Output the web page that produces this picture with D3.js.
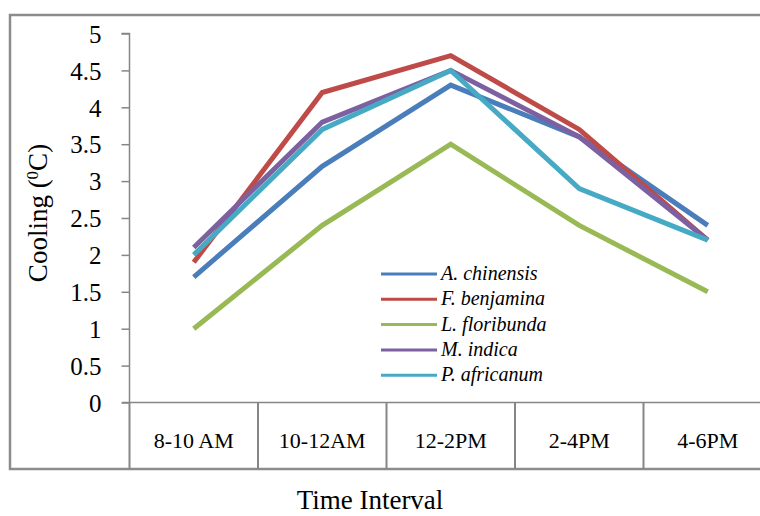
<!DOCTYPE html>
<html>
<head>
<meta charset="utf-8">
<script src="https://cdn.jsdelivr.net/npm/d3@7"></script>
<style>
  body { margin: 0; background: #fff; }
  text { font-family: "Liberation Serif", "Times New Roman", serif; fill: #000; }
</style>
</head>
<body>
<script>
// Data
var intervals = ["8-10 AM", "10-12AM", "12-2PM", "2-4PM", "4-6PM"];
var species = ["A. chinensis", "F. benjamina", "L. floribunda", "M. indica", "P. africanum"];
var chinensis  = [1.7, 3.2, 4.3, 3.6, 2.4];
var benjamina  = [1.9, 4.2, 4.7, 3.7, 2.2];
var floribunda = [1.0, 2.4, 3.5, 2.4, 1.5];
var indica     = [2.1, 3.8, 4.5, 3.6, 2.2];
var africanum  = [2.0, 3.7, 4.5, 2.9, 2.2];
var yTicks = [0, 0.5, 1, 1.5, 2, 2.5, 3, 3.5, 4, 4.5, 5];

var colors = ["#4a7ebb", "#be4b48", "#98b954", "#7d60a0", "#46aac5"];
var series = [chinensis, benjamina, floribunda, indica, africanum].map(function(v, i) {
  return { name: species[i], values: v, color: colors[i] };
});

var width = 760, height = 516;
var svg = d3.select('body').append('svg')
  .attr('width', width)
  .attr('height', height);

// outer chart frame (runs off the right edge like the original)
svg.append('rect')
  .attr('x', 10).attr('y', 15)
  .attr('width', 800).attr('height', 454)
  .attr('fill', 'none')
  .attr('stroke', '#8c8c8c')
  .attr('stroke-width', 2.5);

var x = d3.scaleBand().domain(intervals).range([129.5, 772]).padding(0);
var y = d3.scaleLinear().domain([0, 5]).range([402.5, 33.5]);

// y axis
var yAxis = svg.append('g')
  .attr('transform', 'translate(129.5,0)')
  .call(d3.axisLeft(y).tickValues(yTicks).tickSize(8).tickPadding(20)
    .tickFormat(function(d) { return String(d); }));
yAxis.attr('font-family', null);
yAxis.selectAll('path, line').attr('stroke', '#868686').attr('stroke-width', 1.5);
yAxis.select('.domain').attr('d', 'M-8,' + y(5) + 'H0V' + y(0));
yAxis.selectAll('text')
  .style('font-family', '"Liberation Serif", serif')
  .style('font-size', '25px')
  .attr('dy', '0.35em');

// x axis as category boxes
var xg = svg.append('g');
xg.append('line')
  .attr('x1', 122).attr('x2', 772)
  .attr('y1', y(0)).attr('y2', y(0))
  .attr('stroke', '#868686').attr('stroke-width', 1.5);
xg.selectAll('line.div')
  .data(intervals)
  .enter().append('line')
  .attr('class', 'div')
  .attr('x1', function(d) { return x(d); })
  .attr('x2', function(d) { return x(d); })
  .attr('y1', y(0)).attr('y2', 469)
  .attr('stroke', '#868686').attr('stroke-width', 2);
xg.selectAll('text')
  .data(intervals)
  .enter().append('text')
  .attr('x', function(d) { return x(d) + x.bandwidth() / 2; })
  .attr('y', 448)
  .attr('text-anchor', 'middle')
  .style('font-size', '22px')
  .text(function(d) { return d; });

// lines
var line = d3.line()
  .x(function(d, i) { return x(intervals[i]) + x.bandwidth() / 2; })
  .y(function(d) { return y(d); });

svg.selectAll('path.series')
  .data(series)
  .enter().append('path')
  .attr('class', 'series')
  .attr('d', function(d) { return line(d.values); })
  .attr('fill', 'none')
  .attr('stroke', function(d) { return d.color; })
  .attr('stroke-width', 5)
  .attr('stroke-linejoin', 'miter');

// legend
var legend = svg.append('g');
var rows = legend.selectAll('g')
  .data(series)
  .enter().append('g')
  .attr('transform', function(d, i) { return 'translate(381,' + (274 + i * 25.3) + ')'; });
rows.append('line')
  .attr('x1', 0).attr('x2', 56)
  .attr('stroke', function(d) { return d.color; })
  .attr('stroke-width', 3);
rows.append('text')
  .attr('x', 60)
  .attr('y', 6)
  .style('font-size', '20px')
  .style('font-style', 'italic')
  .text(function(d) { return d.name; });

// axis titles
svg.append('text')
  .attr('x', 370).attr('y', 509)
  .attr('text-anchor', 'middle')
  .style('font-size', '27px')
  .text('Time Interval');

var yt = svg.append('text')
  .attr('transform', 'translate(47,213) rotate(-90)')
  .attr('text-anchor', 'middle')
  .style('font-size', '27px');
yt.append('tspan').text('Cooling (');
yt.append('tspan').attr('baseline-shift', 'super').style('font-size', '17px').text('0');
yt.append('tspan').text('C)');
</script>
</body>
</html>
